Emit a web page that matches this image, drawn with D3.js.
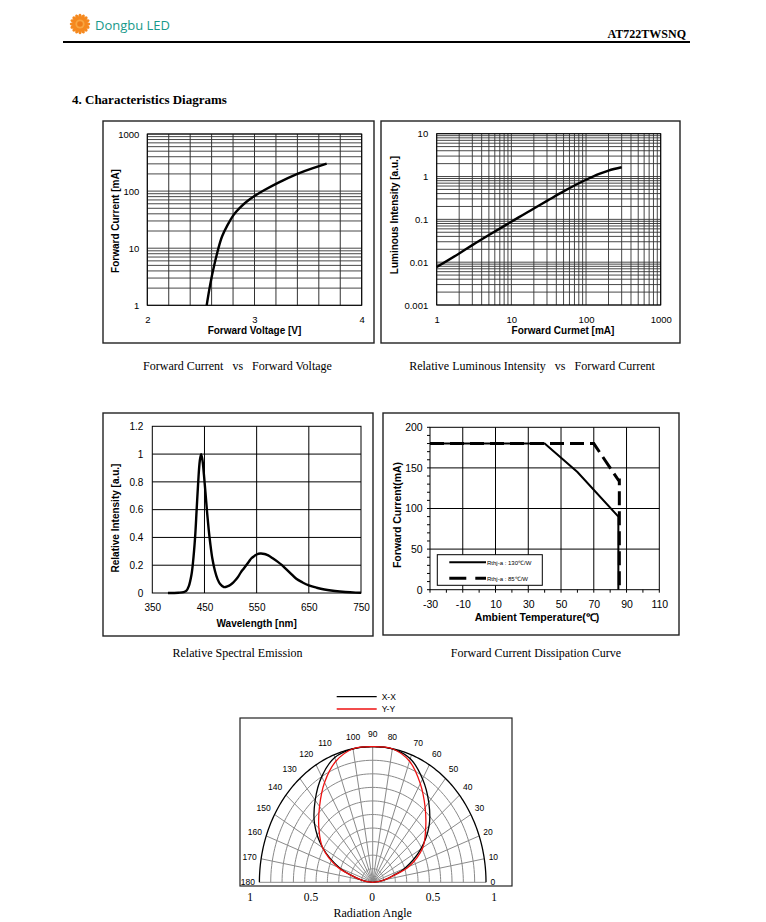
<!DOCTYPE html>
<html><head><meta charset="utf-8">
<script src="https://cdn.jsdelivr.net/npm/d3@7"></script>
<style>body{margin:0;background:#fff}svg{display:block}text{white-space:pre}</style>
</head><body>
<svg id="c" width="766" height="922"></svg>
<script>
// ---------------- DATA ----------------
// Panel 1: Forward Current vs Forward Voltage
const fvVoltage = [2.554,2.585,2.625,2.663,2.694,2.750,2.802,2.865,2.927,2.998,3.082,3.207,3.403,3.549,3.673];
const fvCurrent = [1,2.3,5.2,10,16.2,25.9,38.7,52,66,82,102,137,205,254,303];
const p1XTicks = [2,3,4];
const p1YTicks = [1,10,100,1000];
// Panel 2: Relative Luminous Intensity vs Forward Current
const lumCurrent = [1,2,3,5,10,20,30,50,100,150,200,300];
const lumIntensity = [0.0077,0.016,0.025,0.043,0.088,0.18,0.27,0.45,0.84,1.15,1.38,1.65];
const p2XTicks = [1,10,100,1000];
const p2YTicks = [0.001,0.01,0.1,1,10];
// Panel 3: Relative Spectral Emission
const specWavelength = [380,400,410,415,420,425,428,432,435,438,441,443.5,446,449,452,455,458,461,465,470,475,480,487,495,500,505,510,515,520,525,530,535,540,545,550,557,565,570,575,580,590,598,605,615,626,638,650,665,680,700,720,740,750];
const specIntensity  = [0,0.002,0.006,0.015,0.05,0.13,0.22,0.4,0.6,0.8,0.95,1.0,0.96,0.85,0.72,0.58,0.46,0.36,0.25,0.16,0.1,0.065,0.043,0.05,0.06,0.075,0.095,0.12,0.15,0.175,0.2,0.225,0.25,0.265,0.277,0.284,0.281,0.274,0.264,0.252,0.226,0.202,0.178,0.142,0.102,0.076,0.055,0.038,0.025,0.014,0.007,0.003,0.002];
const p3XTicks = [350,450,550,650,750];
const p3YTicks = [0,0.2,0.4,0.6,0.8,1,1.2];
// Panel 4: Forward Current Dissipation Curve
const derateTemp130 = [-30,40,60,85,85];
const derateCurr130 = [180,180,145,90,0];
const derateTemp85 = [-30,70,85,85.6,85.6];
const derateCurr85 = [180,180,135,135,0];
const p4XTicks = [-30,-10,10,30,50,70,90,110];
const p4YTicks = [0,50,100,150,200];
const p4Legend = ["Rthj-a : 130\u2103/W","Rthj-a : 85\u2103/W"];
// Panel 5: Radiation pattern
const polarAngles = [0,5,10,15,20,30,40,50,60,70,80,90,100,110,120,130,140,150,160,165,170,175,180];
const xxIntensity = [0,0.05,0.11,0.18,0.30,0.49,0.65,0.77,0.88,0.97,1.0,1.0,1.0,0.98,0.90,0.79,0.67,0.51,0.31,0.19,0.11,0.05,0];
const yyIntensity = [0,0.05,0.11,0.19,0.34,0.51,0.61,0.72,0.84,0.95,1.0,1.0,1.0,0.95,0.85,0.73,0.62,0.51,0.33,0.19,0.11,0.05,0];
const polarAngleLabels = [0,10,20,30,40,50,60,70,80,90,100,110,120,130,140,150,160,170,180];
const polarRadiusLabels = [-1,-0.5,0,0.5,1];
const polarLegend = ["X-X","Y-Y"];
const captions = ["Forward Current   vs   Forward Voltage","Relative Luminous Intensity   vs   Forward Current","Relative Spectral Emission","Forward Current Dissipation Curve"];

// ---------------- DRAW ----------------
const svg = d3.select("#c");
const SANS = "'Liberation Sans', Arial, sans-serif";
const SERIF = "'Liberation Serif', 'Times New Roman', serif";

function txt(x,y,s,opt={}){
  const t = svg.append("text").attr("x",x).attr("y",y).text(s)
    .attr("font-family",opt.family||SANS).attr("font-size",opt.size||10)
    .attr("font-weight",opt.weight||"normal").attr("fill",opt.fill||"#000")
    .attr("text-anchor",opt.anchor||"middle").attr("dominant-baseline",opt.base||"central");
  if(opt.rotate) t.attr("transform",`rotate(${opt.rotate},${x},${y})`);
  return t;
}
function frame(x0,y0,x1,y1,w=1.4){
  svg.append("rect").attr("x",x0).attr("y",y0).attr("width",x1-x0).attr("height",y1-y0)
    .attr("fill","none").attr("stroke","#222").attr("stroke-width",w);
}
function logLines(lo,hi){
  const out=[];
  for(let e=Math.round(Math.log10(lo)); e<Math.round(Math.log10(hi)); e++){
    for(let m=1;m<10;m++) out.push(+(m*Math.pow(10,e)).toPrecision(3));
  }
  out.push(hi); return out;
}
function styleAxis(g,size){
  g.select(".domain").remove();
  g.selectAll("text").attr("font-family",SANS).attr("font-size",size).attr("fill","#000");
}

// Header
const logo = svg.append("g").attr("transform","translate(80,24)");
d3.range(16).forEach(i=>{
  logo.append("ellipse").attr("rx",1.8).attr("ry",3.6)
    .attr("transform",`rotate(${i*360/16}) translate(0,-6.6)`).attr("fill","#f5891f");
});
logo.append("circle").attr("r",4.6).attr("fill","#f8a640");
logo.append("circle").attr("r",2.8).attr("fill","#ef7d18");
txt(95,25,"Dongbu LED",{family:"'Open Sans', 'Noto Sans', sans-serif",size:13,weight:500,anchor:"start",fill:"#17998a"});
txt(686,33.5,"AT722TWSNQ",{family:SERIF,size:12,weight:"bold",anchor:"end"});
svg.append("line").attr("x1",63).attr("x2",690).attr("y1",42).attr("y2",42).attr("stroke","#000").attr("stroke-width",2);
txt(72,99,"4. Characteristics Diagrams",{family:SERIF,size:13,weight:"bold",anchor:"start"});

// ---------- Panel 1 ----------
{
  frame(103,121,374,343);
  const L=147.3,R=361.7,T=134,B=305.3;
  const x = d3.scaleLinear().domain([2,4]).range([L,R]);
  const y = d3.scaleLog().domain([1,1000]).range([B,T]);
  const g = svg.append("g");
  g.selectAll(".vx").data(d3.range(0,11).map(i=>2+i*0.2)).join("line")
    .attr("x1",d=>x(d)).attr("x2",d=>x(d)).attr("y1",T).attr("y2",B).attr("stroke","#333").attr("stroke-width",1);
  g.selectAll(".hy").data(logLines(1,1000)).join("line")
    .attr("x1",L).attr("x2",R).attr("y1",d=>y(d)).attr("y2",d=>y(d)).attr("stroke","#333").attr("stroke-width",0.9);
  g.append("rect").attr("x",L).attr("y",T).attr("width",R-L).attr("height",B-T).attr("fill","none").attr("stroke","#000");
  svg.append("path").datum(fvVoltage.map((v,i)=>[v,fvCurrent[i]]))
    .attr("d",d3.line().x(d=>x(d[0])).y(d=>y(d[1])).curve(d3.curveBasis))
    .attr("fill","none").attr("stroke","#000").attr("stroke-width",2.4);
  styleAxis(svg.append("g").attr("transform",`translate(${L},0)`)
    .call(d3.axisLeft(y).tickValues(p1YTicks).tickFormat(d=>String(d)).tickSize(0).tickPadding(8)),9.5);
  styleAxis(svg.append("g").attr("transform",`translate(0,${B})`)
    .call(d3.axisBottom(x).tickValues(p1XTicks).tickFormat(d=>String(d)).tickSize(0).tickPadding(11)),9.5);
  txt((L+R)/2,330,"Forward Voltage [V]",{weight:"bold",size:10});
  txt(115,221,"Forward Current [mA]",{weight:"bold",size:10,rotate:-90});
}

// ---------- Panel 2 ----------
{
  frame(381,121,680,343);
  const L=436.7,R=660.7,T=133.7,B=305;
  const x = d3.scaleLog().domain([1,1000]).range([L,R]);
  const y = d3.scaleLog().domain([0.001,10]).range([B,T]);
  const g = svg.append("g");
  g.selectAll(".vx").data(logLines(1,1000)).join("line")
    .attr("x1",d=>x(d)).attr("x2",d=>x(d)).attr("y1",T).attr("y2",B).attr("stroke","#333").attr("stroke-width",0.9);
  g.selectAll(".hy").data(logLines(0.001,10)).join("line")
    .attr("x1",L).attr("x2",R).attr("y1",d=>y(d)).attr("y2",d=>y(d)).attr("stroke","#333").attr("stroke-width",0.9);
  g.append("rect").attr("x",L).attr("y",T).attr("width",R-L).attr("height",B-T).attr("fill","none").attr("stroke","#000");
  svg.append("path").datum(lumCurrent.map((v,i)=>[v,lumIntensity[i]]))
    .attr("d",d3.line().x(d=>x(d[0])).y(d=>y(d[1])).curve(d3.curveMonotoneX))
    .attr("fill","none").attr("stroke","#000").attr("stroke-width",2.4);
  styleAxis(svg.append("g").attr("transform",`translate(${L},0)`)
    .call(d3.axisLeft(y).tickValues(p2YTicks).tickFormat(d=>String(d)).tickSize(0).tickPadding(8.5)),9.5);
  styleAxis(svg.append("g").attr("transform",`translate(0,${B})`)
    .call(d3.axisBottom(x).tickValues(p2XTicks).tickFormat(d=>String(d)).tickSize(0).tickPadding(11)),9.5);
  txt(563,330,"Forward Curmet [mA]",{weight:"bold",size:10});
  txt(394,215,"Luminous Intensity [a.u.]",{weight:"bold",size:10,rotate:-90});
}

// ---------- Panel 3 ----------
{
  frame(103,413,373,636);
  const L=152.3,R=361,T=426.3,B=593;
  const x = d3.scaleLinear().domain([350,750]).range([L,R]);
  const y = d3.scaleLinear().domain([0,1.2]).range([B,T]);
  const g = svg.append("g");
  g.selectAll(".vx").data([450,550,650]).join("line")
    .attr("x1",d=>x(d)).attr("x2",d=>x(d)).attr("y1",T).attr("y2",B).attr("stroke","#000").attr("stroke-width",1);
  g.selectAll(".hy").data([0.2,0.4,0.6,0.8,1.0]).join("line")
    .attr("x1",L).attr("x2",R).attr("y1",d=>y(d)).attr("y2",d=>y(d)).attr("stroke","#000").attr("stroke-width",1);
  g.append("rect").attr("x",L).attr("y",T).attr("width",R-L).attr("height",B-T).attr("fill","none").attr("stroke","#000");
  svg.append("path").datum(specWavelength.map((v,i)=>[v,specIntensity[i]]))
    .attr("d",d3.line().x(d=>x(d[0])).y(d=>y(d[1])).curve(d3.curveCatmullRom))
    .attr("fill","none").attr("stroke","#000").attr("stroke-width",2.4);
  styleAxis(svg.append("g").attr("transform",`translate(${L},0)`)
    .call(d3.axisLeft(y).tickValues(p3YTicks).tickFormat(d=>String(d)).tickSize(0).tickPadding(9)),10);
  styleAxis(svg.append("g").attr("transform",`translate(0,${B})`)
    .call(d3.axisBottom(x).tickValues(p3XTicks).tickFormat(d=>String(d)).tickSize(0).tickPadding(11)),10);
  txt((L+R)/2,623,"Wavelength [nm]",{weight:"bold",size:10});
  txt(115,518,"Relative Intensity [a.u.]",{weight:"bold",size:10,rotate:-90});
}

// ---------- Panel 4 ----------
{
  frame(383,413,679,635);
  const L=430,R=659.3,T=427.3,B=589.7;
  const x = d3.scaleLinear().domain([-30,110]).range([L,R]);
  const y = d3.scaleLinear().domain([0,200]).range([B,T]);
  const g = svg.append("g");
  g.selectAll(".vx").data([-10,10,30,50,70,90]).join("line")
    .attr("x1",d=>x(d)).attr("x2",d=>x(d)).attr("y1",T).attr("y2",B).attr("stroke","#000").attr("stroke-width",1);
  g.selectAll(".hy").data([50,100,150]).join("line")
    .attr("x1",L).attr("x2",R).attr("y1",d=>y(d)).attr("y2",d=>y(d)).attr("stroke","#000").attr("stroke-width",1);
  g.append("rect").attr("x",L).attr("y",T).attr("width",R-L).attr("height",B-T).attr("fill","none").attr("stroke","#000");
  g.selectAll(".tx").data(d3.range(-30,111,10)).join("line")
    .attr("x1",d=>x(d)).attr("x2",d=>x(d)).attr("y1",B).attr("y2",B+3).attr("stroke","#000");
  g.selectAll(".ty").data(d3.range(0,201,10)).join("line")
    .attr("x1",L-3).attr("x2",L).attr("y1",d=>y(d)).attr("y2",d=>y(d)).attr("stroke","#000");
  const ln = d3.line().x(d=>x(d[0])).y(d=>y(d[1]));
  svg.append("path").datum(derateTemp85.map((v,i)=>[v,derateCurr85[i]]))
    .attr("d",ln).attr("fill","none").attr("stroke","#000").attr("stroke-width",3).attr("stroke-dasharray","14,6");
  svg.append("path").datum(derateTemp130.map((v,i)=>[v,derateCurr130[i]]))
    .attr("d",ln).attr("fill","none").attr("stroke","#000").attr("stroke-width",2);
  // legend
  svg.append("rect").attr("x",437.3).attr("y",554.7).attr("width",105).attr("height",30.6)
    .attr("fill","#fff").attr("stroke","#000").attr("stroke-width",1);
  svg.append("line").attr("x1",449.3).attr("x2",486).attr("y1",562.3).attr("y2",562.3).attr("stroke","#000").attr("stroke-width",2);
  svg.append("line").attr("x1",449.3).attr("x2",486).attr("y1",578.3).attr("y2",578.3).attr("stroke","#000").attr("stroke-width",3).attr("stroke-dasharray","17,9");
  txt(487,562.5,p4Legend[0],{size:6,anchor:"start"});
  txt(487,578.5,p4Legend[1],{size:6,anchor:"start"});
  styleAxis(svg.append("g").attr("transform",`translate(${L},0)`)
    .call(d3.axisLeft(y).tickValues(p4YTicks).tickFormat(d=>String(d)).tickSize(0).tickPadding(7.3)),10.5);
  styleAxis(svg.append("g").attr("transform",`translate(0,${B})`)
    .call(d3.axisBottom(x).tickValues(p4XTicks).tickFormat(d=>String(d)).tickSize(0).tickPadding(11)),10.5);
  txt(537,617,"Ambient Temperature(\u2103)",{weight:"bold",size:10.5});
  txt(397,515,"Forward Current(mA)",{weight:"bold",size:10.5,rotate:-90});
}

// captions
txt(237.5,366,captions[0],{family:SERIF,size:12});
txt(532,366,captions[1],{family:SERIF,size:12});
txt(237.5,653,captions[2],{family:SERIF,size:12});
txt(536,653,captions[3],{family:SERIF,size:12});

// ---------- Panel 5: polar ----------
{
  const cx=372.7, cy=882.3, rx=113.3, ry=135.6;
  const px = d3.scaleLinear().domain([-1,1]).range([cx-rx,cx+rx]);
  const py = d3.scaleLinear().domain([0,1]).range([cy,cy-ry]);
  const rad = a=>a*Math.PI/180;
  const P = (a,r)=>[px(r*Math.cos(rad(a))), py(r*Math.sin(rad(a)))];
  svg.append("rect").attr("x",240).attr("y",718).attr("width",272).attr("height",168)
    .attr("fill","none").attr("stroke","#222").attr("stroke-width",1.2);
  const g = svg.append("g");
  const arc = d3.line().x(d=>d[0]).y(d=>d[1]);
  d3.range(1,10).forEach(k=>{
    g.append("path").attr("d",arc(d3.range(0,181,2).map(a=>P(a,k/10))))
      .attr("fill","none").attr("stroke","#8a8a8a").attr("stroke-width",1);
  });
  g.selectAll(".sp").data(d3.range(10,171,10)).join("line")
    .attr("x1",cx).attr("y1",cy).attr("x2",d=>P(d,1)[0]).attr("y2",d=>P(d,1)[1])
    .attr("stroke","#8a8a8a").attr("stroke-width",1);
  g.append("line").attr("x1",px(-1)).attr("x2",px(1)).attr("y1",cy).attr("y2",cy).attr("stroke","#8a8a8a");
  g.append("path").attr("d",arc(d3.range(0,181,1).map(a=>P(a,1))))
    .attr("fill","none").attr("stroke","#000").attr("stroke-width",1.3);
  const curve = d3.line().x(d=>d[0]).y(d=>d[1]).curve(d3.curveCatmullRom);
  svg.append("path").attr("d",curve(polarAngles.map((a,i)=>P(a,xxIntensity[i]))))
    .attr("fill","none").attr("stroke","#000").attr("stroke-width",1.3);
  svg.append("path").attr("d",curve(polarAngles.map((a,i)=>P(a,yyIntensity[i]))))
    .attr("fill","none").attr("stroke","#ee1111").attr("stroke-width",1.3);
  polarAngleLabels.forEach(a=>{
    const near = Math.abs(a-90)<=10;
    const kx = near?1.0:1.03;
    const xx = px(kx*Math.cos(rad(a))) + (near?0:(a<90?1:-1));
    const yy = py(1.09*Math.sin(rad(a)));
    txt(xx,yy,String(a),{size:8.5,anchor: near?"middle":(a<90?"start":"end")});
  });
  const lx = d3.scaleLinear().domain([-1,1]).range([250,494]);
  polarRadiusLabels.forEach(v=>txt(lx(v),897,String(Math.abs(v)),{family:SERIF,size:11.5}));
  txt(cx,913,"Radiation Angle",{family:SERIF,size:12});
  // legend
  const colors=["#000","#ee1111"];
  polarLegend.forEach((s,i)=>{
    const yy=696.7+i*12.3;
    svg.append("line").attr("x1",336.7).attr("x2",376.7).attr("y1",yy).attr("y2",yy).attr("stroke",colors[i]).attr("stroke-width",1.3);
    txt(381.7,yy,s,{size:8.5,anchor:"start"});
  });
}
</script>
</body></html>
